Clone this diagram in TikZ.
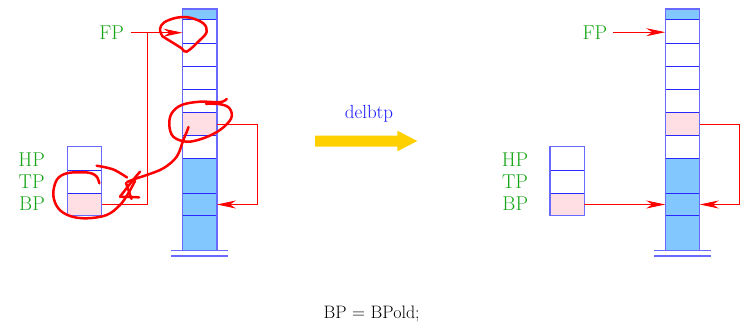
\documentclass[tikz,border=0pt]{standalone}
\usetikzlibrary{arrows.meta}
\definecolor{lblgreen}{RGB}{20,165,20}
\definecolor{stk}{RGB}{40,40,255}
\definecolor{stkout}{RGB}{105,105,255}
\definecolor{cellblue}{RGB}{130,200,255}
\definecolor{cellpink}{RGB}{255,222,228}
\definecolor{yarrow}{RGB}{255,208,0}
\definecolor{txtblue}{RGB}{25,25,255}
\begin{document}
\begin{tikzpicture}[x=1pt,y=-1pt,
  cell/.style={draw=stk, line width=0.8pt, minimum width=34.5pt, inner sep=0pt, outer sep=0pt},
  lbl/.style={text=lblgreen, font=\fontsize{20}{24}\selectfont, inner sep=0pt},
  ptr/.style={draw=red, line width=0.9pt, -{Stealth[length=19pt,width=8pt,inset=6pt]}},
  link/.style={draw=red, line width=0.9pt},
  scribble/.style={draw=red, line width=2.5pt, line cap=round, line join=round},
  outline/.style={draw=stkout, line width=1.3pt}]
\useasboundingbox (0,0) rectangle (747,328);

% big stacks
\foreach \n/\c/\h/\f in {0/14.35/10.7/cellblue, 1/31.5/23.6/white, 2/54.8/23/white,
  3/77.8/23/white, 4/101/23.4/white, 5/124.2/23/cellpink, 6/147/22.6/white,
  7/175.8/35/cellblue, 8/204.5/22.4/cellblue, 9/233.2/35/cellblue}{
  \node[cell, fill=\f, minimum height=\h pt] (L\n) at (199.7,\c) {};
  \node[cell, fill=\f, minimum height=\h pt] (R\n) at (682.5,\c) {};
}
\draw[outline] (L0.north west) rectangle (L9.south east);
\draw[outline] (R0.north west) rectangle (R9.south east);
\draw[outline] ([xshift=-11pt]L9.south west) -- ([xshift=11pt]L9.south east);
\draw[outline] ([xshift=-11pt,yshift=-5.3pt]L9.south west) -- ([xshift=11pt,yshift=-5.3pt]L9.south east);
\draw[outline] ([xshift=-11pt]R9.south west) -- ([xshift=11pt]R9.south east);
\draw[outline] ([xshift=-11pt,yshift=-5.3pt]R9.south west) -- ([xshift=11pt,yshift=-5.3pt]R9.south east);

% small stacks
\foreach \n/\c/\h/\f in {1/158.5/23.6/white, 2/181.8/23/white, 3/204.5/22.4/cellpink}{
  \node[cell, fill=\f, minimum height=\h pt] (sL\n) at (84.5,\c) {};
  \node[cell, fill=\f, minimum height=\h pt] (sR\n) at (567.2,\c) {};
}
\draw[outline] (sL1.north west) rectangle (sL3.south east);
\draw[outline] (sR1.north west) rectangle (sR3.south east);

% labels
\node[lbl] (fpL) at (111.7,32.7) {FP};
\node[lbl] (hpL) at (31.7,159.7) {HP};
\node[lbl] (tpL) at (31.7,181.7) {TP};
\node[lbl] (bpL) at (32,203.7) {BP};
\node[lbl] (fpR) at (595,32.2) {FP};
\node[lbl] (hpR) at (515,159.7) {HP};
\node[lbl] (tpR) at (515,181.7) {TP};
\node[lbl] (bpR) at (515.3,203.7) {BP};

% left pointers
\coordinate (jL) at (147.7,32.7);
\coordinate (kL) at (257.3,124.2);
\draw[ptr] (131,32.7) -- (fpL.east -| L1.west);
\draw[link] (sL3.east) -| (jL);
\draw[ptr] (L5.east) -- (kL) |- (L8.east);

% right pointers
\coordinate (kR) at (739.3,124.2);
\draw[ptr] (613.3,32.2) -- (fpR.east -| R1.west);
\draw[ptr] (sR3.east) -- (sR3.east -| R8.west);
\draw[ptr] (R5.east) -- (kR) |- (R8.east);

% operation arrow
\node[text=txtblue, font=\fontsize{19}{22}\selectfont, anchor=base, inner sep=0pt] (op) at (369,118.3) {delbtp};
\fill[yarrow] (315,135.7) -- (397.3,135.7) -- (397.3,130.7) -- (417.3,141) -- (397.3,151.3) -- (397.3,146.7) -- (315,146.7) -- cycle;

\node[font=\fontsize{18}{22}\selectfont, anchor=base, inner sep=0pt] (code) at (371.7,319) {BP = BPold;};

% hand-drawn red marks
\draw[scribble] plot[smooth, tension=0.6] coordinates {(161.7,35) (160,29) (164,22.5) (176.7,17.7) (190,17.7) (203.3,23.3) (206.7,31.7) (200,40) (186.7,51.7) (181.7,48.3) (170,41) (162,36)};
\draw[scribble] plot[smooth, tension=0.6] coordinates {(226.7,99) (220,102.2) (200,101.7) (181.7,105) (171.7,113.3) (169.3,125) (173.3,136.7) (186.7,141.7) (203.3,138.3) (220,130) (231.2,118.3) (229.5,108.3) (220,104.2) (206,103.8)};
\draw[scribble] plot[smooth, tension=0.6] coordinates {(188.5,127) (186.7,132) (183.3,140) (176.7,156.7) (163.3,168.3) (146.7,175) (136.7,178.3) (127,182)};
\draw[scribble] plot[smooth, tension=0.5] coordinates {(140,171.7) (131.7,181.7) (120,196.7)};
\draw[scribble] (120,196.7) -- (139,197.3);
\draw[scribble] (126,183) -- (131.5,199);
\draw[scribble] plot[smooth, tension=0.6] coordinates {(99.3,183.3) (97,177) (92,173.5) (83.3,172.3) (66.7,173.3) (56.7,180) (53.3,195) (58.3,208.3) (70,216) (86.7,218.3) (106.7,215) (120,205) (128.3,193.3) (135,181)};
\draw[scribble] plot[smooth, tension=0.6] coordinates {(96.7,165.7) (113.3,169.5) (127,177.5)};
\end{tikzpicture}
\end{document}
